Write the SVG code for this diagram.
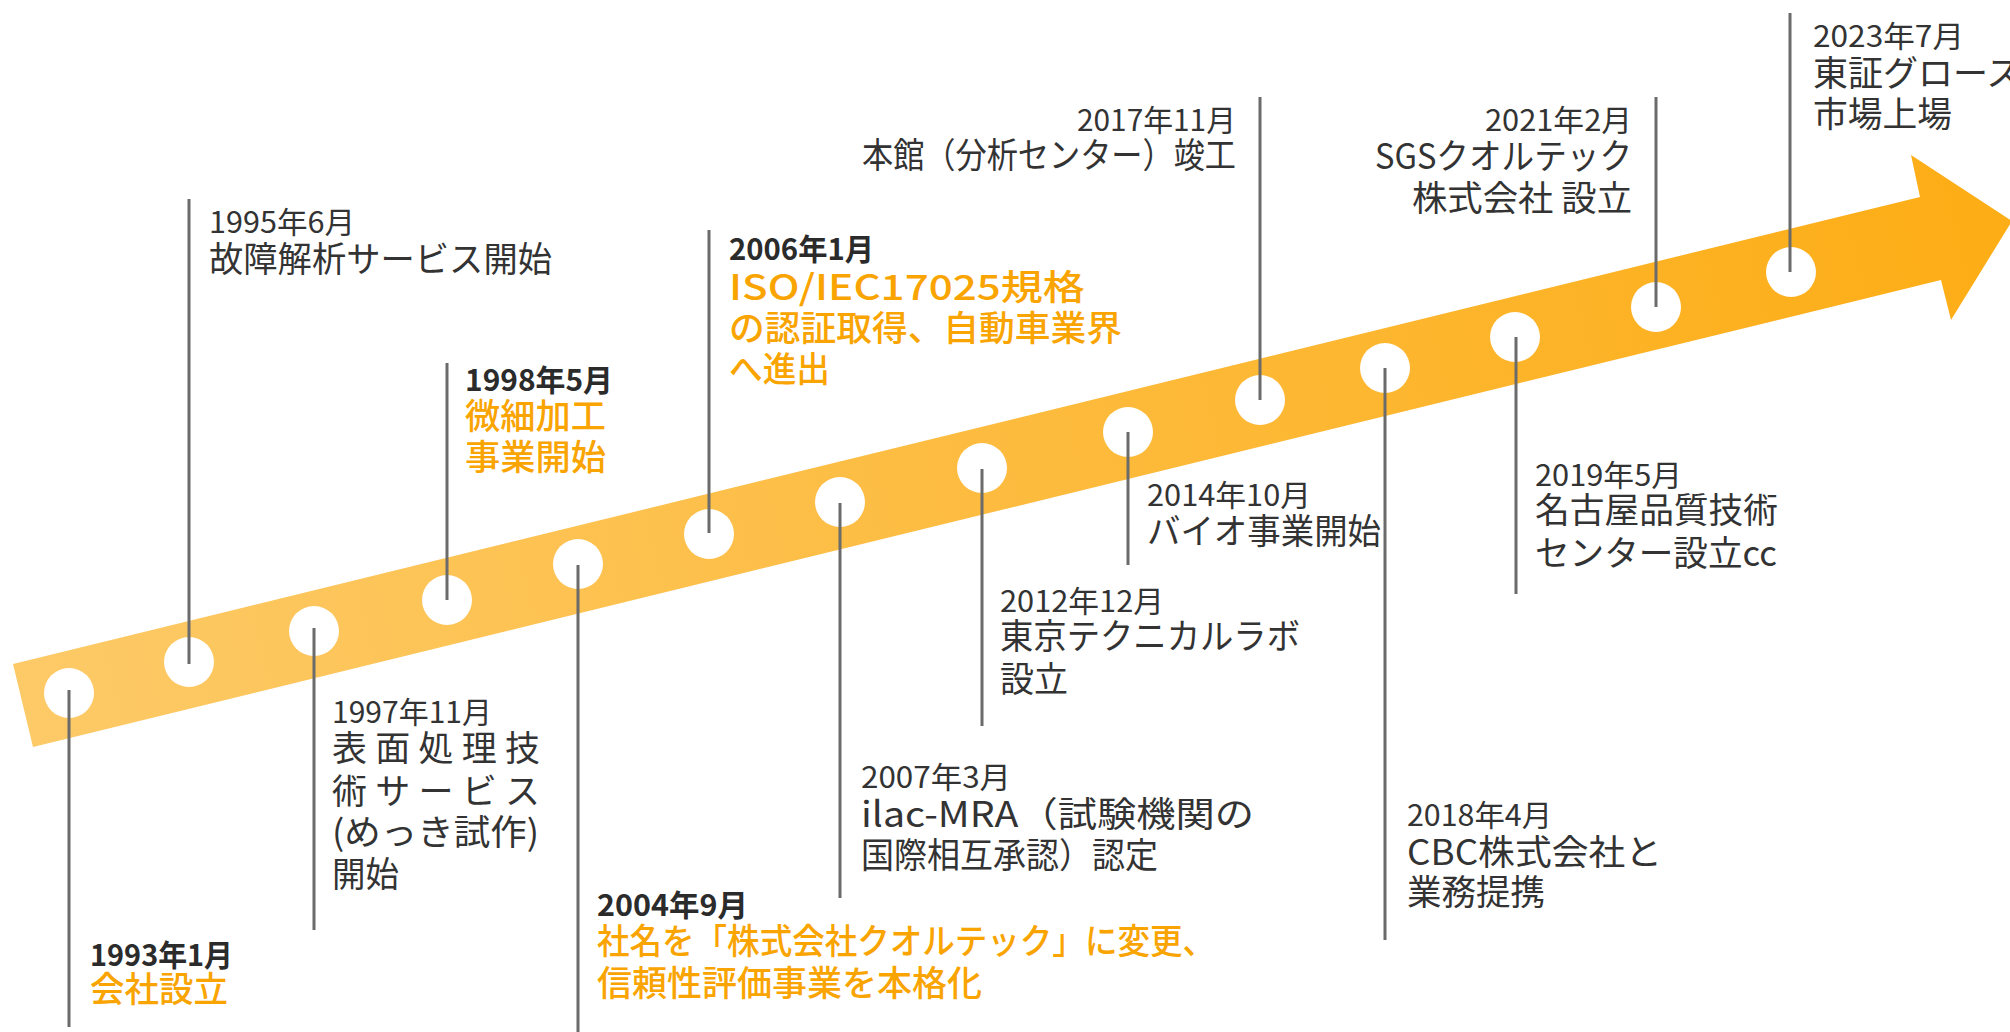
<svg xmlns="http://www.w3.org/2000/svg" width="2010" height="1032" viewBox="0 0 2010 1032">
<defs>
<linearGradient id="bandGrad" gradientUnits="userSpaceOnUse" x1="13" y1="700" x2="2010" y2="220">
<stop offset="0" stop-color="#FDCA68"/>
<stop offset="1" stop-color="#FDAD15"/>
</linearGradient>
<style>
text{font-family:"Noto Sans CJK JP","Noto Sans",sans-serif;fill:#333333;}
.d{font-size:30px;}
.db{font-size:30px;font-weight:600;fill:#2b2b2b;}
.t{font-size:35px;}
.o{font-size:35px;fill:#F9A400;font-weight:500;}
.dot{fill:#ffffff;}
.ln{stroke:#6b6b6b;stroke-width:3;fill:none;}
</style>
</defs>
<rect width="2010" height="1032" fill="#ffffff"/>
<polygon id="band" points="13,664 1920,197 1911,155 2012,221 1951,320 1941,280 33,747" fill="url(#bandGrad)"/>
<g id="nodes">
<g id="n1993">
<circle class="dot" cx="69" cy="693" r="25"/>
<text class="db" x="90" y="966" textLength="143" lengthAdjust="spacingAndGlyphs">1993年1月</text>
<text class="o" x="90" y="1002" textLength="138" lengthAdjust="spacingAndGlyphs">会社設立</text>
</g>
<g id="n1995">
<circle class="dot" cx="189" cy="662" r="25"/>
<text class="d" x="209" y="233" textLength="146" lengthAdjust="spacingAndGlyphs">1995年6月</text>
<text class="t" x="209" y="272" textLength="343" lengthAdjust="spacingAndGlyphs">故障解析サービス開始</text>
</g>
<g id="n1997">
<circle class="dot" cx="314" cy="631" r="25"/>
<text class="d" x="332" y="723" textLength="160" lengthAdjust="spacingAndGlyphs">1997年11月</text>
<text class="t" x="332" y="761" textLength="208" lengthAdjust="spacing">表面処理技</text>
<text class="t" x="332" y="804" textLength="208" lengthAdjust="spacing">術サービス</text>
<text class="t" x="332" y="845" textLength="207" lengthAdjust="spacingAndGlyphs">(めっき試作)</text>
<text class="t" x="332" y="887" textLength="67" lengthAdjust="spacingAndGlyphs">開始</text>
</g>
<g id="n1998">
<circle class="dot" cx="447" cy="600" r="25"/>
<text class="db" x="465" y="391" textLength="148" lengthAdjust="spacingAndGlyphs">1998年5月</text>
<text class="o" x="465" y="429" textLength="141" lengthAdjust="spacingAndGlyphs">微細加工</text>
<text class="o" x="465" y="470" textLength="141" lengthAdjust="spacingAndGlyphs">事業開始</text>
</g>
<g id="n2004">
<circle class="dot" cx="578" cy="564" r="25"/>
<text class="db" x="597" y="916" textLength="151" lengthAdjust="spacingAndGlyphs">2004年9月</text>
<text class="o" x="597" y="954" textLength="618" lengthAdjust="spacingAndGlyphs">社名を「株式会社クオルテック」に変更、</text>
<text class="o" x="597" y="996" textLength="385" lengthAdjust="spacingAndGlyphs">信頼性評価事業を本格化</text>
</g>
<g id="n2006">
<circle class="dot" cx="709" cy="534" r="25"/>
<text class="db" x="729" y="260" textLength="145" lengthAdjust="spacingAndGlyphs">2006年1月</text>
<text class="o" x="729" y="300" textLength="356" lengthAdjust="spacingAndGlyphs">ISO/IEC17025規格</text>
<text class="o" x="729" y="341" textLength="393" lengthAdjust="spacingAndGlyphs">の認証取得、自動車業界</text>
<text class="o" x="729" y="382" textLength="101" lengthAdjust="spacingAndGlyphs">へ進出</text>
</g>
<g id="n2007">
<circle class="dot" cx="840" cy="502" r="25"/>
<text class="d" x="861" y="788" textLength="150" lengthAdjust="spacingAndGlyphs">2007年3月</text>
<text class="t" x="861" y="827" textLength="393" lengthAdjust="spacingAndGlyphs">ilac-MRA（試験機関の</text>
<text class="t" x="861" y="868" textLength="297" lengthAdjust="spacingAndGlyphs">国際相互承認）認定</text>
</g>
<g id="n2012">
<circle class="dot" cx="982" cy="468" r="25"/>
<text class="d" x="1000" y="612" textLength="164" lengthAdjust="spacingAndGlyphs">2012年12月</text>
<text class="t" x="1000" y="649" textLength="300" lengthAdjust="spacingAndGlyphs">東京テクニカルラボ</text>
<text class="t" x="1000" y="692" textLength="68" lengthAdjust="spacingAndGlyphs">設立</text>
</g>
<g id="n2014">
<circle class="dot" cx="1128" cy="432" r="25"/>
<text class="d" x="1147" y="506" textLength="164" lengthAdjust="spacingAndGlyphs">2014年10月</text>
<text class="t" x="1147" y="544" textLength="234" lengthAdjust="spacingAndGlyphs">バイオ事業開始</text>
</g>
<g id="n2017">
<circle class="dot" cx="1260" cy="400" r="25"/>
<text class="d" x="1077" y="131" textLength="159" lengthAdjust="spacingAndGlyphs">2017年11月</text>
<text class="t" x="862" y="168" textLength="374" lengthAdjust="spacingAndGlyphs">本館（分析センター）竣工</text>
</g>
<g id="n2018">
<circle class="dot" cx="1385" cy="368" r="25"/>
<text class="d" x="1407" y="826" textLength="145" lengthAdjust="spacingAndGlyphs">2018年4月</text>
<text class="t" x="1407" y="865" textLength="255" lengthAdjust="spacingAndGlyphs">CBC株式会社と</text>
<text class="t" x="1407" y="905" textLength="138" lengthAdjust="spacingAndGlyphs">業務提携</text>
</g>
<g id="n2019">
<circle class="dot" cx="1515" cy="337" r="25"/>
<text class="d" x="1535" y="486" textLength="147" lengthAdjust="spacingAndGlyphs">2019年5月</text>
<text class="t" x="1535" y="523" textLength="243" lengthAdjust="spacingAndGlyphs">名古屋品質技術</text>
<text class="t" x="1535" y="566" textLength="242" lengthAdjust="spacingAndGlyphs">センター設立cc</text>
</g>
<g id="n2021">
<circle class="dot" cx="1656" cy="307" r="25"/>
<text class="d" x="1485" y="131" textLength="147" lengthAdjust="spacingAndGlyphs">2021年2月</text>
<text class="t" x="1375" y="169" textLength="257" lengthAdjust="spacingAndGlyphs">SGSクオルテック</text>
<text class="t" x="1412" y="211" textLength="220" lengthAdjust="spacingAndGlyphs">株式会社 設立</text>
</g>
<g id="n2023">
<circle class="dot" cx="1791" cy="272" r="25"/>
<text class="d" x="1813" y="47" textLength="151" lengthAdjust="spacingAndGlyphs">2023年7月</text>
<text class="t" x="1813" y="86">東証グロース</text>
<text class="t" x="1813" y="127" textLength="139" lengthAdjust="spacingAndGlyphs">市場上場</text>
</g>
</g>
<g id="connectors">
<line class="ln" x1="69" y1="690" x2="69" y2="1027"/>
<line class="ln" x1="189" y1="199" x2="189" y2="664"/>
<line class="ln" x1="314" y1="628" x2="314" y2="930"/>
<line class="ln" x1="447" y1="363" x2="447" y2="600"/>
<line class="ln" x1="578" y1="565" x2="578" y2="1032"/>
<line class="ln" x1="709" y1="230" x2="709" y2="533"/>
<line class="ln" x1="840" y1="503" x2="840" y2="898"/>
<line class="ln" x1="982" y1="469" x2="982" y2="726"/>
<line class="ln" x1="1128" y1="432" x2="1128" y2="565"/>
<line class="ln" x1="1260" y1="97" x2="1260" y2="400"/>
<line class="ln" x1="1385" y1="368" x2="1385" y2="940"/>
<line class="ln" x1="1516" y1="337" x2="1516" y2="594"/>
<line class="ln" x1="1656" y1="97" x2="1656" y2="307"/>
<line class="ln" x1="1790" y1="13" x2="1790" y2="272"/>
</g>
</svg>
